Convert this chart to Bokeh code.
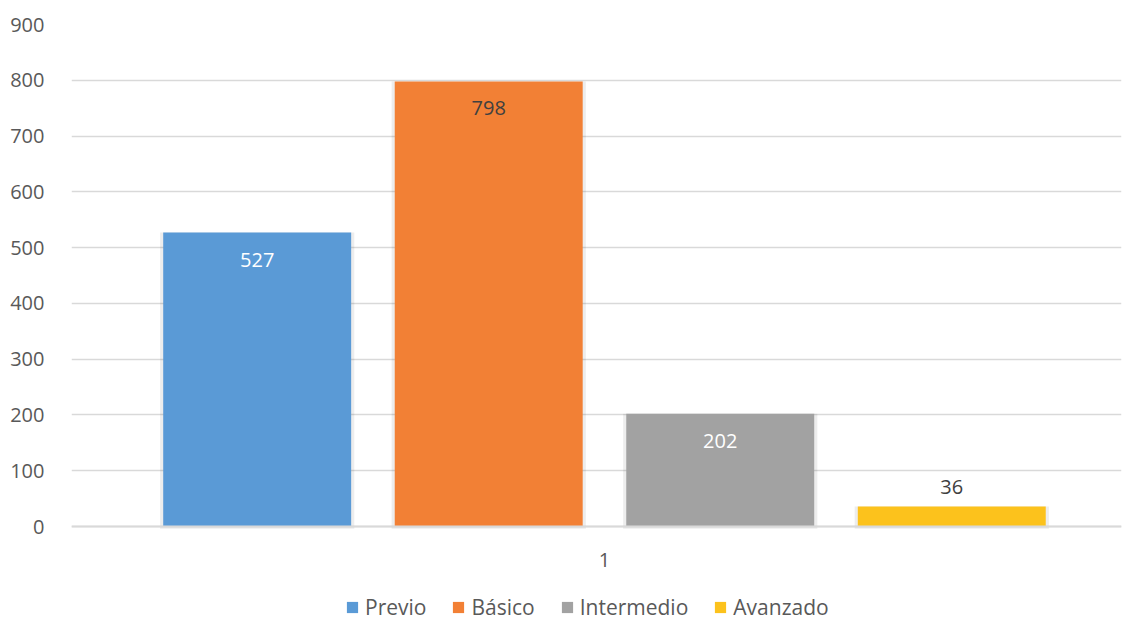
from bokeh.plotting import figure
from bokeh.models import ColumnDataSource, Range1d, FixedTicker, Legend, LegendItem
from bokeh.embed import file_html
from bokeh.resources import INLINE
from bokeh.core.properties import value

# ---- data ----
categories = ["Previo", "Básico", "Intermedio", "Avanzado"]
values = [527, 798, 202, 36]
group_label = "1"
y_ticks = [0, 100, 200, 300, 400, 500, 600, 700, 800, 900]

# ---- styles ----
colors = ["#5a9ad6", "#f28035", "#a2a2a2", "#fcc21c"]
label_colors = ["#ffffff", "#404040", "#ffffff", "#404040"]
label_offsets = [27, 27, 27, -19]
FONT = "Open Sans"
TXT = "#595959"
GRID = "#d9d9d9"

spacing = 0.2205
bar_w = 0.179
xs = [(i - 1.5) * spacing for i in range(len(categories))]

src = ColumnDataSource(dict(
    x=xs, top=values, cat=categories, color=colors,
    lab=[str(v) for v in values], lab_color=label_colors, yoff=label_offsets,
))

# frame extends below zero to leave room for the category label and legend
y_lo = -900 * 95 / 502
p = figure(width=1134, height=621, output_backend="svg", toolbar_location=None,
           x_range=Range1d(-0.5076, 0.4924), y_range=Range1d(y_lo, 900),
           min_border_left=71, min_border_right=13, min_border_top=24, min_border_bottom=0)
p.outline_line_color = None
p.background_fill_color = "white"
p.border_fill_color = "white"

# faint shadow
p.vbar(x="x", top="top", bottom=-4, width=bar_w + 0.006, source=src,
       fill_color="#000000", fill_alpha=0.07, line_color=None)
r = p.vbar(x="x", top="top", width=bar_w, source=src, fill_color="color", line_color=None)

p.text(x="x", y="top", text="lab", source=src, text_color="lab_color",
       y_offset="yoff", text_align="center", text_baseline="middle",
       text_font=value(FONT), text_font_size="20px")

# axes
p.yaxis.ticker = FixedTicker(ticks=y_ticks)
p.yaxis.axis_line_color = None
p.yaxis.major_tick_line_color = None
p.yaxis.minor_tick_line_color = None
p.yaxis.major_label_text_font = FONT
p.yaxis.major_label_text_font_size = "20px"
p.yaxis.major_label_text_color = TXT
p.yaxis.major_label_standoff = 21

p.xaxis.fixed_location = 0
p.xaxis.ticker = FixedTicker(ticks=[0])
p.xaxis.major_label_overrides = {0: group_label}
p.xaxis.axis_line_color = GRID
p.xaxis.axis_line_width = 2
p.xaxis.major_tick_line_color = None
p.xaxis.minor_tick_line_color = None
p.xaxis.major_label_text_font = FONT
p.xaxis.major_label_text_font_size = "20px"
p.xaxis.major_label_text_color = TXT
p.xaxis.major_label_standoff = 20

p.xgrid.grid_line_color = None
p.ygrid.ticker = FixedTicker(ticks=y_ticks)
p.ygrid.grid_line_color = GRID
p.ygrid.grid_line_width = 1.5

items = [LegendItem(label=c, renderers=[r], index=i) for i, c in enumerate(categories)]
leg = Legend(items=items, orientation="horizontal", location=(274, 0),
             label_text_font=FONT, label_text_font_size="21px", label_text_color=TXT,
             glyph_width=14, glyph_height=14, spacing=25, padding=2, margin=0,
             border_line_color=None, background_fill_alpha=0, label_standoff=6)
p.add_layout(leg, "center")

open("out.html", "w").write(file_html(p, INLINE))
